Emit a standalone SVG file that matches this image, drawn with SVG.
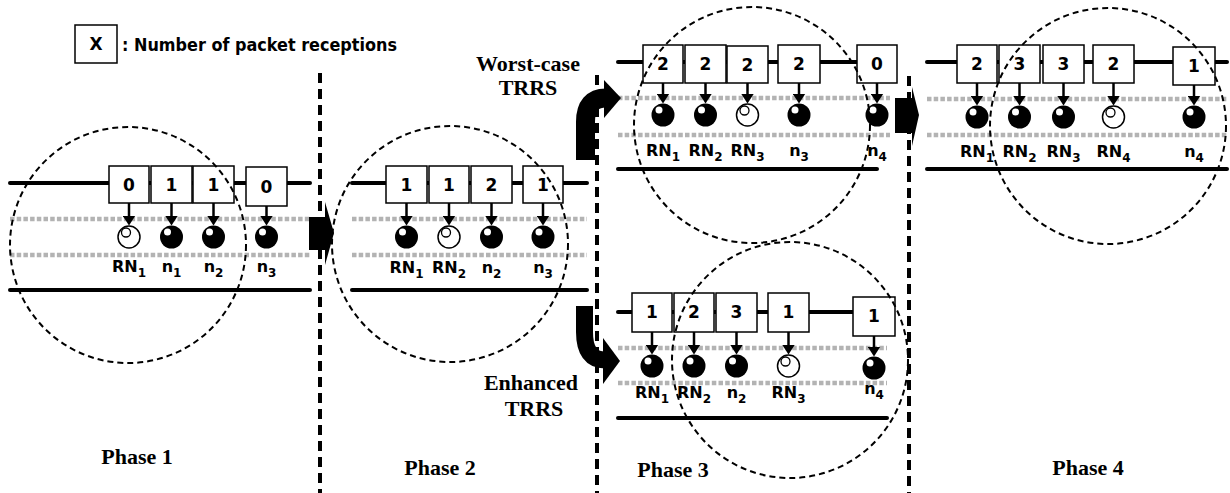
<svg xmlns="http://www.w3.org/2000/svg" xmlns:xlink="http://www.w3.org/1999/xlink" width="1230" height="493" viewBox="0 0 1230 493">
  <style>
    .bus { stroke: #000; stroke-width: 4; stroke-linecap: round; }
    .band { stroke: #b3b3b3; stroke-width: 4.5; stroke-dasharray: 4.5 2.2; }
    .box { fill: #fff; stroke: #000; stroke-width: 1.5; }
    .num { font-family: "DejaVu Sans", "Liberation Sans", sans-serif; font-weight: bold; font-size: 17px; text-anchor: middle; fill: #000; }
    .lbl { font-family: "DejaVu Sans", "Liberation Sans", sans-serif; font-weight: bold; font-size: 16px; text-anchor: middle; fill: #000; }
    .sub { font-size: 12px; }
    .cap { font-family: "Liberation Serif", "Times New Roman", serif; font-weight: bold; font-size: 22px; text-anchor: middle; fill: #000; }
    .range { fill: none; stroke: #000; stroke-width: 2; stroke-dasharray: 6 4; }
    .divider { stroke: #000; stroke-width: 4; stroke-dasharray: 10 6; }
    .down { stroke: #000; stroke-width: 2.5; marker-end: url(#tip); }
  </style>
  <defs>
    <marker id="tip" markerUnits="userSpaceOnUse" viewBox="0 0 10 13" markerWidth="10" markerHeight="13" refX="6.5" refY="6.5" orient="auto">
      <path d="M0,0 L10,6.5 L0,13 z" fill="#000"/>
    </marker>
    <g id="full">
      <circle r="11.5" fill="#000"/>
      <circle cx="-4" cy="-5" r="3.5" fill="#fff"/>
    </g>
    <g id="open">
      <circle r="11" fill="#fff" stroke="#000" stroke-width="1.5"/>
      <circle cx="-3" cy="-4.5" r="4.5" fill="#fff" stroke="#000" stroke-width="1.3"/>
    </g>
  </defs>

  <rect width="1230" height="493" fill="#fff"/>

  <!-- legend -->
  <g id="legend">
    <rect class="box" x="75" y="25" width="42" height="38"/>
    <text class="num" x="96" y="50">X</text>
    <text class="num" x="122" y="51" style="text-anchor:start" textLength="275" lengthAdjust="spacingAndGlyphs">: Number of packet receptions</text>
  </g>

  <!-- phase separators -->
  <g id="dividers">
    <line class="divider" x1="320" y1="73" x2="320" y2="493"/>
    <line class="divider" x1="597" y1="75" x2="597" y2="493"/>
    <line class="divider" x1="909" y1="76" x2="909" y2="493"/>
  </g>

  <!-- channel lines -->
  <g id="channels">
    <line class="bus" x1="10" y1="183" x2="310" y2="183"/>
    <line class="band" x1="10" y1="219" x2="310" y2="219"/>
    <line class="band" x1="10" y1="255" x2="310" y2="255"/>
    <line class="bus" x1="10" y1="290" x2="310" y2="290"/>

    <line class="bus" x1="352" y1="183" x2="587" y2="183"/>
    <line class="band" x1="352" y1="219" x2="587" y2="219"/>
    <line class="band" x1="352" y1="255" x2="587" y2="255"/>
    <line class="bus" x1="352" y1="290" x2="587" y2="290"/>

    <line class="bus" x1="618" y1="62" x2="857" y2="62"/>
    <line class="band" x1="618" y1="98" x2="890" y2="98"/>
    <line class="band" x1="618" y1="135" x2="890" y2="135"/>
    <line class="bus" x1="618" y1="169" x2="877" y2="169"/>

    <line class="bus" x1="618" y1="312" x2="853" y2="312"/>
    <line class="band" x1="618" y1="348" x2="887" y2="348"/>
    <line class="band" x1="618" y1="383" x2="887" y2="383"/>
    <line class="bus" x1="618" y1="418" x2="887" y2="418"/>

    <line class="bus" x1="927" y1="62" x2="1227" y2="62"/>
    <line class="band" x1="927" y1="99" x2="1227" y2="99"/>
    <line class="band" x1="927" y1="135" x2="1227" y2="135"/>
    <line class="bus" x1="927" y1="169" x2="1227" y2="169"/>
  </g>

  <!-- Phase 1 -->
  <g id="p1-rn1">
    <rect class="box" x="109" y="166" width="40" height="37"/>
    <text class="num" x="129" y="191">0</text>
    <use xlink:href="#open" x="129" y="237"/>
    <text class="lbl" x="129" y="272">RN<tspan class="sub" dy="5">1</tspan></text>
  </g>
  <g id="p1-n1">
    <rect class="box" x="151" y="166" width="41" height="37"/>
    <text class="num" x="171.5" y="191">1</text>
    <use xlink:href="#full" x="171.5" y="237"/>
    <text class="lbl" x="171.5" y="272">n<tspan class="sub" dy="5">1</tspan></text>
  </g>
  <g id="p1-n2">
    <rect class="box" x="193" y="166" width="41" height="37"/>
    <text class="num" x="213.5" y="191">1</text>
    <use xlink:href="#full" x="213.5" y="237"/>
    <text class="lbl" x="213.5" y="272">n<tspan class="sub" dy="5">2</tspan></text>
  </g>
  <g id="p1-n3">
    <rect class="box" x="246" y="167" width="41" height="39"/>
    <text class="num" x="266.5" y="193">0</text>
    <use xlink:href="#full" x="266.5" y="237"/>
    <text class="lbl" x="266.5" y="272">n<tspan class="sub" dy="5">3</tspan></text>
  </g>

  <!-- Phase 2 -->
  <g id="p2-rn1">
    <rect class="box" x="386" y="166" width="41" height="37"/>
    <text class="num" x="406.5" y="191">1</text>
    <use xlink:href="#full" x="406.5" y="237"/>
    <text class="lbl" x="406.5" y="273">RN<tspan class="sub" dy="5">1</tspan></text>
  </g>
  <g id="p2-rn2">
    <rect class="box" x="429" y="166" width="40" height="37"/>
    <text class="num" x="449" y="191">1</text>
    <use xlink:href="#open" x="449" y="237"/>
    <text class="lbl" x="449" y="273">RN<tspan class="sub" dy="5">2</tspan></text>
  </g>
  <g id="p2-n2">
    <rect class="box" x="471" y="166" width="41" height="37"/>
    <text class="num" x="491.5" y="191">2</text>
    <use xlink:href="#full" x="491.5" y="237"/>
    <text class="lbl" x="491.5" y="273">n<tspan class="sub" dy="5">2</tspan></text>
  </g>
  <g id="p2-n3">
    <rect class="box" x="523" y="166" width="40" height="37"/>
    <text class="num" x="543" y="191">1</text>
    <use xlink:href="#full" x="543" y="237"/>
    <text class="lbl" x="543" y="273">n<tspan class="sub" dy="5">3</tspan></text>
  </g>

  <!-- Phase 3, worst-case TRRS -->
  <g id="worst-label">
    <text class="cap" x="528" y="71">Worst-case</text>
    <text class="cap" x="528" y="95">TRRS</text>
  </g>
  <g id="p3w-rn1">
    <rect class="box" x="643" y="45" width="40" height="38"/>
    <text class="num" x="663" y="70">2</text>
    <use xlink:href="#full" x="663" y="115"/>
    <text class="lbl" x="663" y="156">RN<tspan class="sub" dy="5">1</tspan></text>
  </g>
  <g id="p3w-rn2">
    <rect class="box" x="685" y="45" width="41" height="38"/>
    <text class="num" x="705.5" y="70">2</text>
    <use xlink:href="#full" x="705.5" y="115"/>
    <text class="lbl" x="705.5" y="156">RN<tspan class="sub" dy="5">2</tspan></text>
  </g>
  <g id="p3w-rn3">
    <rect class="box" x="727" y="46" width="41" height="37"/>
    <text class="num" x="747.5" y="71">2</text>
    <use xlink:href="#open" x="747.5" y="115"/>
    <text class="lbl" x="747.5" y="156">RN<tspan class="sub" dy="5">3</tspan></text>
  </g>
  <g id="p3w-n3">
    <rect class="box" x="778" y="45" width="42" height="38"/>
    <text class="num" x="799" y="70">2</text>
    <use xlink:href="#full" x="799" y="115"/>
    <text class="lbl" x="799" y="156">n<tspan class="sub" dy="5">3</tspan></text>
  </g>
  <g id="p3w-n4">
    <rect class="box" x="857" y="45" width="40" height="38"/>
    <text class="num" x="877" y="70">0</text>
    <use xlink:href="#full" x="877" y="115"/>
    <text class="lbl" x="877" y="156">n<tspan class="sub" dy="5">4</tspan></text>
  </g>

  <!-- Phase 3, enhanced TRRS -->
  <g id="enh-label">
    <text class="cap" x="531" y="390">Enhanced</text>
    <text class="cap" x="534" y="416">TRRS</text>
  </g>
  <g id="p3e-rn1">
    <rect class="box" x="632" y="293" width="40" height="39"/>
    <text class="num" x="652" y="318">1</text>
    <use xlink:href="#full" x="652" y="366"/>
    <text class="lbl" x="652" y="398">RN<tspan class="sub" dy="5">1</tspan></text>
  </g>
  <g id="p3e-rn2">
    <rect class="box" x="674" y="293" width="40" height="39"/>
    <text class="num" x="694" y="318">2</text>
    <use xlink:href="#full" x="694" y="366"/>
    <text class="lbl" x="694" y="398">RN<tspan class="sub" dy="5">2</tspan></text>
  </g>
  <g id="p3e-n2">
    <rect class="box" x="716" y="293" width="41" height="39"/>
    <text class="num" x="736.5" y="318">3</text>
    <use xlink:href="#full" x="736.5" y="366"/>
    <text class="lbl" x="736.5" y="398">n<tspan class="sub" dy="5">2</tspan></text>
  </g>
  <g id="p3e-rn3">
    <rect class="box" x="768" y="293" width="41" height="39"/>
    <text class="num" x="788.5" y="318">1</text>
    <use xlink:href="#open" x="788.5" y="366"/>
    <text class="lbl" x="788.5" y="398">RN<tspan class="sub" dy="5">3</tspan></text>
  </g>
  <g id="p3e-n4">
    <rect class="box" x="853" y="297" width="42" height="39"/>
    <text class="num" x="874" y="322">1</text>
    <use xlink:href="#full" x="874" y="368"/>
    <text class="lbl" x="874" y="394">n<tspan class="sub" dy="5">4</tspan></text>
  </g>

  <!-- Phase 4 -->
  <g id="p4-rn1">
    <rect class="box" x="957" y="45" width="40" height="38"/>
    <text class="num" x="977" y="70">2</text>
    <use xlink:href="#full" x="977" y="117"/>
    <text class="lbl" x="977" y="157">RN<tspan class="sub" dy="5">1</tspan></text>
  </g>
  <g id="p4-rn2">
    <rect class="box" x="999" y="45" width="41" height="38"/>
    <text class="num" x="1019.5" y="70">3</text>
    <use xlink:href="#full" x="1019.5" y="117"/>
    <text class="lbl" x="1019.5" y="157">RN<tspan class="sub" dy="5">2</tspan></text>
  </g>
  <g id="p4-rn3">
    <rect class="box" x="1043" y="45" width="41" height="38"/>
    <text class="num" x="1063.5" y="70">3</text>
    <use xlink:href="#full" x="1063.5" y="117"/>
    <text class="lbl" x="1063.5" y="157">RN<tspan class="sub" dy="5">3</tspan></text>
  </g>
  <g id="p4-rn4">
    <rect class="box" x="1093" y="45" width="41" height="38"/>
    <text class="num" x="1113.5" y="70">2</text>
    <use xlink:href="#open" x="1113.5" y="117"/>
    <text class="lbl" x="1113.5" y="157">RN<tspan class="sub" dy="5">4</tspan></text>
  </g>
  <g id="p4-n4">
    <rect class="box" x="1173" y="47" width="42" height="38"/>
    <text class="num" x="1194" y="72">1</text>
    <use xlink:href="#full" x="1194" y="117"/>
    <text class="lbl" x="1194" y="157">n<tspan class="sub" dy="5">4</tspan></text>
  </g>

  <!-- connectors: reception arrows and phase transitions -->
  <g id="connectors">
    <line class="down" x1="129" y1="203" x2="129" y2="222"/>
    <line class="down" x1="171.5" y1="203" x2="171.5" y2="222"/>
    <line class="down" x1="213.5" y1="203" x2="213.5" y2="222"/>
    <line class="down" x1="266.5" y1="206" x2="266.5" y2="222"/>

    <line class="down" x1="406.5" y1="203" x2="406.5" y2="222"/>
    <line class="down" x1="449" y1="203" x2="449" y2="222"/>
    <line class="down" x1="491.5" y1="203" x2="491.5" y2="222"/>
    <line class="down" x1="543" y1="203" x2="543" y2="222"/>

    <line class="down" x1="663" y1="83" x2="663" y2="100"/>
    <line class="down" x1="705.5" y1="83" x2="705.5" y2="100"/>
    <line class="down" x1="747.5" y1="83" x2="747.5" y2="100"/>
    <line class="down" x1="799" y1="83" x2="799" y2="100"/>
    <line class="down" x1="877" y1="83" x2="877" y2="100"/>

    <line class="down" x1="652" y1="332" x2="652" y2="351"/>
    <line class="down" x1="694" y1="332" x2="694" y2="351"/>
    <line class="down" x1="736.5" y1="332" x2="736.5" y2="351"/>
    <line class="down" x1="788.5" y1="332" x2="788.5" y2="351"/>
    <line class="down" x1="874" y1="336" x2="874" y2="353"/>

    <line class="down" x1="977" y1="83" x2="977" y2="102"/>
    <line class="down" x1="1019.5" y1="83" x2="1019.5" y2="102"/>
    <line class="down" x1="1063.5" y1="83" x2="1063.5" y2="102"/>
    <line class="down" x1="1113.5" y1="83" x2="1113.5" y2="102"/>
    <line class="down" x1="1194" y1="85" x2="1194" y2="102"/>

    <!-- phase 1 to phase 2 -->
    <polygon points="309,217 325,217 325,202 334,233 325,265 325,250 309,250" fill="#000"/>
    <!-- phase 2 to worst-case phase 3 -->
    <path d="M585.5,160 V122 Q585.5,98 606,98" fill="none" stroke="#000" stroke-width="19"/>
    <polygon points="604,80 621,98 604,118" fill="#000"/>
    <!-- phase 2 to enhanced phase 3 -->
    <path d="M584.5,306 V332 Q584.5,360 605,360" fill="none" stroke="#000" stroke-width="17"/>
    <polygon points="603,338 620,361 603,384" fill="#000"/>
    <!-- phase 3 to phase 4 -->
    <polygon points="895,98 912,98 912,87 919,115 912,146 912,133 895,133" fill="#000"/>
  </g>

  <!-- transmission ranges -->
  <g id="ranges">
    <circle class="range" cx="128" cy="245" r="118"/>
    <circle class="range" cx="450" cy="244" r="118"/>
    <circle class="range" cx="752" cy="125" r="118"/>
    <circle class="range" cx="790" cy="360" r="118"/>
    <circle class="range" cx="1108" cy="126" r="118"/>
  </g>

  <!-- phase captions -->
  <g id="captions">
    <text class="cap" x="137" y="464">Phase 1</text>
    <text class="cap" x="440" y="475">Phase 2</text>
    <text class="cap" x="673" y="477">Phase 3</text>
    <text class="cap" x="1088" y="475">Phase 4</text>
  </g>
</svg>
